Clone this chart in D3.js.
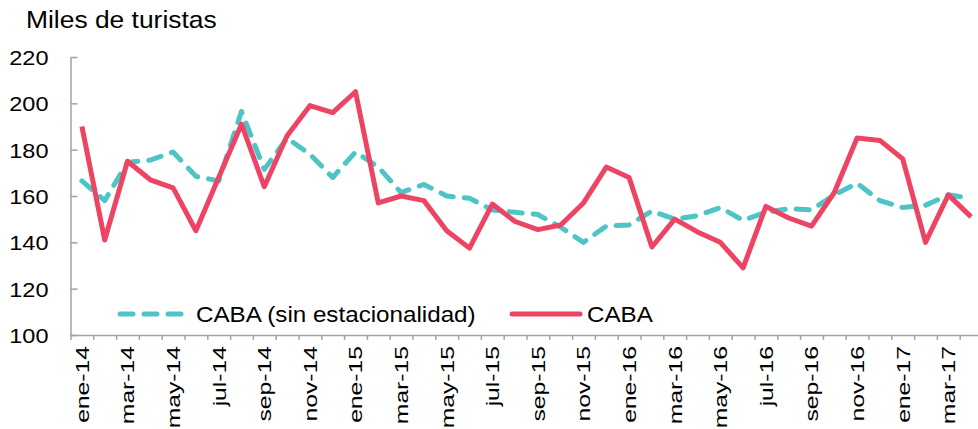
<!DOCTYPE html>
<html>
<head>
<meta charset="utf-8">
<script src="https://cdn.jsdelivr.net/npm/d3@7"></script>
<style>
  html, body { margin: 0; padding: 0; background: #fff; }
  svg { display: block; font-family: "Liberation Sans", Arial, sans-serif; }
</style>
</head>
<body>
<svg id="chart" width="978" height="429"></svg>
<script>
// ---- data ----
const months = [
  "ene-14","feb-14","mar-14","abr-14","may-14","jun-14","jul-14","ago-14","sep-14","oct-14","nov-14","dic-14",
  "ene-15","feb-15","mar-15","abr-15","may-15","jun-15","jul-15","ago-15","sep-15","oct-15","nov-15","dic-15",
  "ene-16","feb-16","mar-16","abr-16","may-16","jun-16","jul-16","ago-16","sep-16","oct-16","nov-16","dic-16",
  "ene-17","feb-17","mar-17","abr-17"
];
const caba = [190, 141, 175, 167, 163.5, 145, 168, 191, 164, 186, 199, 196,
  205, 157, 160, 158, 145, 137.5, 156.5, 149, 145.5, 147.5, 157, 172.5,
  168, 138, 150, 144.5, 140, 129, 155.5, 150.5, 147, 161.5, 185, 184,
  176, 140, 160.5, 151];
const cabaSA = [166.5, 158, 174.5, 175.5, 179, 168.5, 166.5, 196.5, 171.5, 185, 178, 168,
  179, 172.5, 161.5, 165, 160, 159, 154, 153, 152, 146.5, 140, 147,
  147.5, 153.5, 150, 151.5, 155, 149.5, 153, 154.5, 154, 160.5, 165.5, 158,
  155, 156, 160.5, 159];
const yTicks = [100, 120, 140, 160, 180, 200, 220];
const xLabels = months.filter((d, i) => i % 2 === 0);
const seriesNames = ["CABA (sin estacionalidad)", "CABA"];

// ---- layout ----
const svg = d3.select("#chart");
const mLeft = 70.5, mBottom = 335, mTop = 57, step = 22.8;
const xBand = d3.scaleBand().domain(months).range([mLeft, mLeft + months.length * step]).padding(0);
const xLin = d3.scaleLinear().domain([0, months.length]).range([mLeft, mLeft + months.length * step]);
const y = d3.scaleLinear().domain([100, 220]).range([mBottom, mTop]);
const cx = d => xBand(d) + xBand.bandwidth() / 2;

const axisColor = "#a3a3a3";
const red = "#EE4463", teal = "#4DC4C5";

// title
svg.append("text")
  .attr("transform", "translate(26,28) scale(1.1,1)")
  .attr("font-size", 24).attr("fill", "#000")
  .text("Miles de turistas");

// y axis
const gy = svg.append("g").attr("transform", `translate(${mLeft},0)`)
  .call(d3.axisLeft(y).tickValues(yTicks).tickSize(-7).tickSizeOuter(0));
gy.select(".domain").attr("stroke", axisColor).attr("stroke-width", 1.5);
gy.selectAll(".tick line").attr("stroke", axisColor).attr("stroke-width", 1.5);
gy.selectAll(".tick text")
  .attr("x", -22 / 1.12).attr("dy", "0.36em")
  .attr("transform", "scale(1.12,1)")
  .attr("font-size", 21).attr("fill", "#000")
  .attr("font-family", "Liberation Sans, Arial, sans-serif");

// x axis: month boundary ticks
const gxt = svg.append("g").attr("transform", `translate(0,${mBottom})`)
  .call(d3.axisBottom(xLin).tickValues(d3.range(0, months.length + 1)).tickSize(5).tickSizeOuter(0).tickFormat(""));
gxt.select(".domain").attr("stroke", axisColor).attr("stroke-width", 1.5);
gxt.selectAll(".tick line").attr("stroke", axisColor).attr("stroke-width", 1.5);

// x axis: labels
const gxl = svg.append("g").attr("transform", `translate(0,${mBottom})`)
  .call(d3.axisBottom(xBand).tickValues(xLabels).tickSize(0).tickSizeOuter(0));
gxl.select(".domain").remove();
gxl.selectAll(".tick text")
  .attr("x", 0).attr("y", 0).attr("dy", "0.36em")
  .attr("text-anchor", "end")
  .attr("transform", "translate(0,11) rotate(-90) scale(1.3,1)")
  .attr("font-size", 19).attr("fill", "#000")
  .attr("font-family", "Liberation Sans, Arial, sans-serif");

// lines
const line = vals => d3.line().x((d, i) => cx(months[i])).y(d => y(d))(vals);
svg.append("path").attr("d", line(cabaSA))
  .attr("fill", "none").attr("stroke", teal).attr("stroke-width", 5)
  .attr("stroke-dasharray", "13 11").attr("stroke-linecap", "round").attr("stroke-linejoin", "round");
svg.append("path").attr("d", line(caba))
  .attr("fill", "none").attr("stroke", red).attr("stroke-width", 5)
  .attr("stroke-linejoin", "round");

// legend
const lg = svg.append("g");
lg.append("line").attr("x1", 120).attr("x2", 186).attr("y1", 314).attr("y2", 314)
  .attr("stroke", teal).attr("stroke-width", 5).attr("stroke-dasharray", "13 11").attr("stroke-linecap", "round");
lg.append("text").attr("transform", "translate(196,314) scale(1.1,1)")
  .attr("dy", "0.36em").attr("font-size", 22).attr("fill", "#000").text(seriesNames[0]);
lg.append("line").attr("x1", 512).attr("x2", 580).attr("y1", 314).attr("y2", 314)
  .attr("stroke", red).attr("stroke-width", 5).attr("stroke-linecap", "round");
lg.append("text").attr("transform", "translate(587,314) scale(1.1,1)")
  .attr("dy", "0.36em").attr("font-size", 22).attr("fill", "#000").text(seriesNames[1]);
</script>
</body>
</html>
